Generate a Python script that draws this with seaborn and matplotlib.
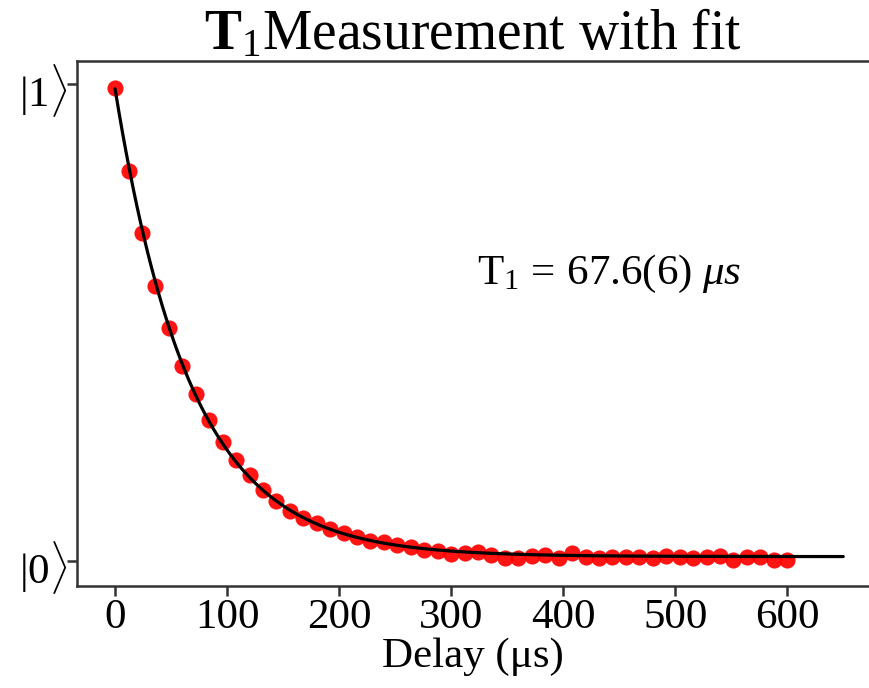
import numpy as np
import pandas as pd
import matplotlib
matplotlib.use("Agg")
import matplotlib.pyplot as plt
import seaborn as sns

# ---- data ----
delay_us = [0, 12, 24, 36, 48, 60, 72, 84, 96, 108, 120, 132, 144, 156, 168, 180,
            192, 204, 216, 228, 240, 252, 264, 276, 288, 300, 312, 324, 336, 348,
            360, 372, 384, 396, 408, 420, 432, 444, 456, 468, 480, 492, 504, 516,
            528, 540, 552, 564, 576, 588, 600]
population = [0.992, 0.818, 0.688, 0.578, 0.488, 0.410, 0.350, 0.296, 0.250, 0.212,
              0.180, 0.150, 0.127, 0.106, 0.090, 0.080, 0.068, 0.060, 0.050, 0.042,
              0.040, 0.034, 0.030, 0.024, 0.022, 0.016, 0.018, 0.019, 0.014, 0.008,
              0.006, 0.012, 0.013, 0.008, 0.017, 0.010, 0.007, 0.009, 0.010, 0.009,
              0.008, 0.011, 0.010, 0.008, 0.009, 0.011, 0.002, 0.010, 0.009, 0.003,
              0.002]

# fit parameters (T1 from the annotation)
T1_fit = 67.6
amp_fit = 0.98
offset_fit = 0.01
fit_end = 650

x_ticks = [0, 100, 200, 300, 400, 500, 600]
y_ticks = [0, 1]
y_ticklabels = [r"$|0\rangle$", r"$|1\rangle$"]

title = r"$\mathbf{T}_{1}$Measurement with fit"
annot = r"$\mathrm{T}_1\,=\,67.6(6)\ \mu s$"
xlabel = "Delay (μs)"

# ---- plotting ----
sns.set_style("ticks")
plt.rcParams["font.family"] = ["Liberation Serif", "DejaVu Serif"]
plt.rcParams["mathtext.fontset"] = "custom"
plt.rcParams["mathtext.rm"] = "Liberation Serif"
plt.rcParams["mathtext.it"] = "Liberation Serif:italic"
plt.rcParams["mathtext.bf"] = "Liberation Serif:bold"
plt.rcParams["text.color"] = "black"
plt.rcParams["xtick.labelcolor"] = "black"
plt.rcParams["ytick.labelcolor"] = "black"
plt.rcParams["axes.labelcolor"] = "black"

fig = plt.figure(figsize=(8.69, 6.88), dpi=100)
ax = fig.add_axes([0.0886, 0.148, 0.9114, 0.763])

df = pd.DataFrame({"delay": delay_us, "pop": population})
t_fit = np.linspace(0, fit_end, 400)
fit_df = pd.DataFrame({"delay": t_fit,
                       "pop": offset_fit + amp_fit * np.exp(-t_fit / T1_fit)})

sns.scatterplot(data=df, x="delay", y="pop", ax=ax, color="#ff0000", s=135,
                linewidth=0, alpha=0.92, zorder=2)
sns.lineplot(data=fit_df, x="delay", y="pop", ax=ax, color="black", lw=2.3,
             zorder=3)

ax.set_xlim(-34, 673)
ax.set_ylim(-0.052, 1.048)
ax.set_xticks(x_ticks)
ax.set_xticklabels([str(v) for v in x_ticks])
ax.set_yticks(y_ticks)
ax.set_yticklabels(y_ticklabels)
ax.tick_params(axis="both", length=7, width=1.8, color="#333333",
               labelsize=31, pad=2)
ax.tick_params(axis="y", labelsize=31, pad=0)

for side in ["left", "bottom", "top"]:
    ax.spines[side].set_linewidth(1.8)
    ax.spines[side].set_color("#333333")
ax.spines["right"].set_visible(False)

ax.set_xlabel(xlabel, fontsize=31, labelpad=0)
ax.set_ylabel("")
ax.set_title(title, fontsize=40, pad=4)
ax.text(0.505, 0.595, annot, transform=ax.transAxes, fontsize=31,
        ha="left", va="center")

fig.savefig("out.png", dpi=100)
